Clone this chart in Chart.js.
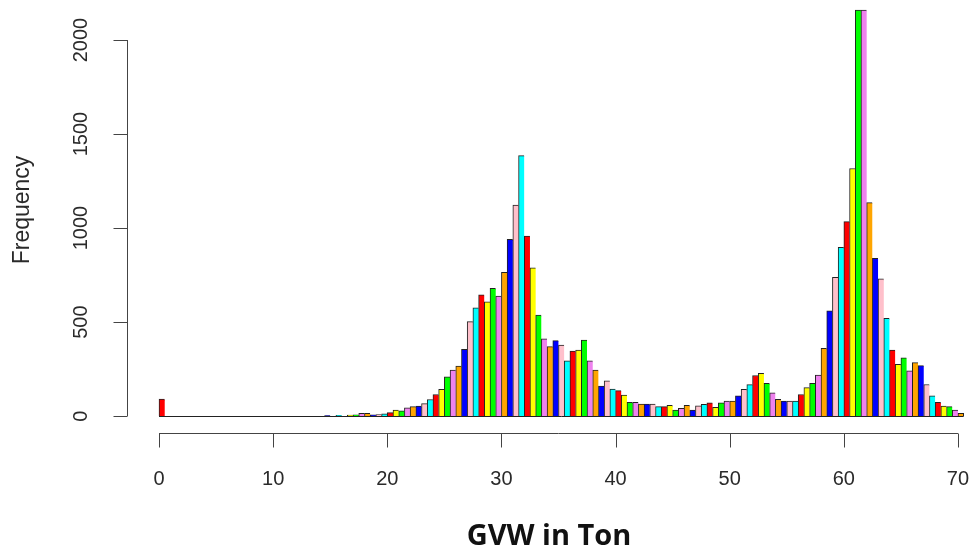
<!DOCTYPE html>
<html>
<head>
<meta charset="utf-8">
<script src="https://cdn.jsdelivr.net/npm/chart.js@4.4.1/dist/chart.umd.min.js"></script>
<style>
  body { margin: 0; background: #fff; }
  #wrap { width: 971px; height: 556px; }
</style>
</head>
<body>
<div id="wrap"><canvas id="histChart"></canvas></div>
<script>
// histogram of GVW, 0.5 ton bins starting at 0
const binWidth = 0.5;
const counts = [
  90, 0, 0, 0, 0, 0, 0, 0, 0, 0,
  0, 0, 0, 0, 0, 0, 0, 0, 0, 0,
  0, 0, 0, 0, 0, 0, 0, 0, 0, 3,
  0, 4, 0, 5, 7, 14, 14, 6, 8, 12,
  18, 32, 28, 44, 50, 53, 66, 88, 115, 142,
  209, 245, 266, 355, 502, 576, 645, 608, 679, 638,
  764, 940, 1122, 1385, 957, 789, 537, 411, 369, 401,
  378, 294, 346, 351, 404, 294, 245, 160, 188, 144,
  135, 112, 73, 73, 64, 64, 64, 50, 50, 57,
  32, 41, 57, 32, 55, 62, 71, 46, 71, 80,
  80, 108, 142, 167, 216, 227, 174, 124, 89, 80,
  80, 80, 115, 151, 174, 218, 360, 560, 738, 897,
  1034, 1317, 2160, 2160, 1135, 839, 730, 520, 351, 275,
  310, 241, 284, 268, 168, 108, 73, 53, 50, 32,
  14
];
const xTicks = [0, 10, 20, 30, 40, 50, 60, 70];
const yTicks = [0, 500, 1000, 1500, 2000];
const xTitle = "GVW in Ton";
const yTitle = "Frequency";

// R colour cycle used for the bars
const barColors = ["#FF0000", "#FFFF00", "#00FF00", "#EE82EE", "#FFA500", "#0000FF", "#FFC0CB", "#00FFFF"];

const points = counts.map((c, i) => ({ x: (i + 0.5) * binWidth, y: c }));
const lastEdge = counts.length * binWidth;

// base-R style axes drawn from the chart's own scales
const rAxes = {
  id: "rAxes",
  afterDraw(chart) {
    const { ctx, chartArea } = chart;
    const xs = chart.scales.x;
    const ys = chart.scales.y;
    ctx.save();

    // zero-count bars show as a line along the base
    const y0 = Math.round(ys.getPixelForValue(0)) + 0.5;
    ctx.strokeStyle = "#222";
    ctx.lineWidth = 1;
    ctx.beginPath();
    ctx.moveTo(xs.getPixelForValue(0), y0);
    ctx.lineTo(xs.getPixelForValue(lastEdge), y0);
    ctx.stroke();

    ctx.strokeStyle = "#444";
    ctx.fillStyle = "#2a2a2a";

    // x axis
    const ax = Math.round(chartArea.bottom) + 0.5;
    ctx.beginPath();
    ctx.moveTo(xs.getPixelForValue(xTicks[0]), ax);
    ctx.lineTo(xs.getPixelForValue(xTicks[xTicks.length - 1]), ax);
    xTicks.forEach(t => {
      const px = Math.round(xs.getPixelForValue(t)) + 0.5;
      ctx.moveTo(px, ax);
      ctx.lineTo(px, ax + 14);
    });
    ctx.stroke();
    ctx.font = "20px 'Liberation Sans', Arial, sans-serif";
    ctx.textAlign = "center";
    ctx.textBaseline = "middle";
    xTicks.forEach(t => ctx.fillText(String(t), xs.getPixelForValue(t), ax + 46));

    // y axis
    const ay = Math.round(chartArea.left - 21) + 0.5;
    ctx.beginPath();
    ctx.moveTo(ay, ys.getPixelForValue(yTicks[0]));
    ctx.lineTo(ay, ys.getPixelForValue(yTicks[yTicks.length - 1]));
    yTicks.forEach(t => {
      const py = Math.round(ys.getPixelForValue(t)) + 0.5;
      ctx.moveTo(ay, py);
      ctx.lineTo(ay - 14, py);
    });
    ctx.stroke();
    yTicks.forEach(t => {
      ctx.save();
      ctx.translate(ay - 46, ys.getPixelForValue(t));
      ctx.rotate(-Math.PI / 2);
      ctx.fillText(String(t), 0, 0);
      ctx.restore();
    });

    // titles
    ctx.save();
    ctx.translate(23, 210);
    ctx.rotate(-Math.PI / 2);
    ctx.font = "23px 'Liberation Sans', Arial, sans-serif";
    ctx.fillText(yTitle, 0, 0);
    ctx.restore();

    ctx.fillStyle = "#111";
    ctx.font = "bold 29px 'Open Sans', sans-serif";
    ctx.fillText(xTitle, 549, 537);

    ctx.restore();
  }
};

new Chart(document.getElementById("histChart"), {
  type: "bar",
  data: {
    datasets: [
      {
        data: points,
        backgroundColor: ctx => barColors[ctx.dataIndex % barColors.length],
        borderColor: "#222",
        borderWidth: ctx => ({
          left: 1,
          top: 1,
          bottom: 0,
          right: ctx.dataIndex === counts.length - 1 ? 1 : 0,
        }),
        borderSkipped: false,
        barPercentage: 1,
        categoryPercentage: 1,
      },
    ],
  },
  options: {
    responsive: true,
    maintainAspectRatio: false,
    animation: false,
    layout: {
      padding: { left: 147.6, right: 1.6, top: 0, bottom: 123 },
    },
    plugins: {
      legend: { display: false },
      tooltip: { enabled: false },
    },
    scales: {
      x: {
        type: "linear",
        min: -1,
        max: 71,
        offset: false,
        display: false,
      },
      y: {
        min: -90,
        max: 2213,
        display: false,
      },
    },
  },
  plugins: [rAxes],
});
</script>
</body>
</html>
